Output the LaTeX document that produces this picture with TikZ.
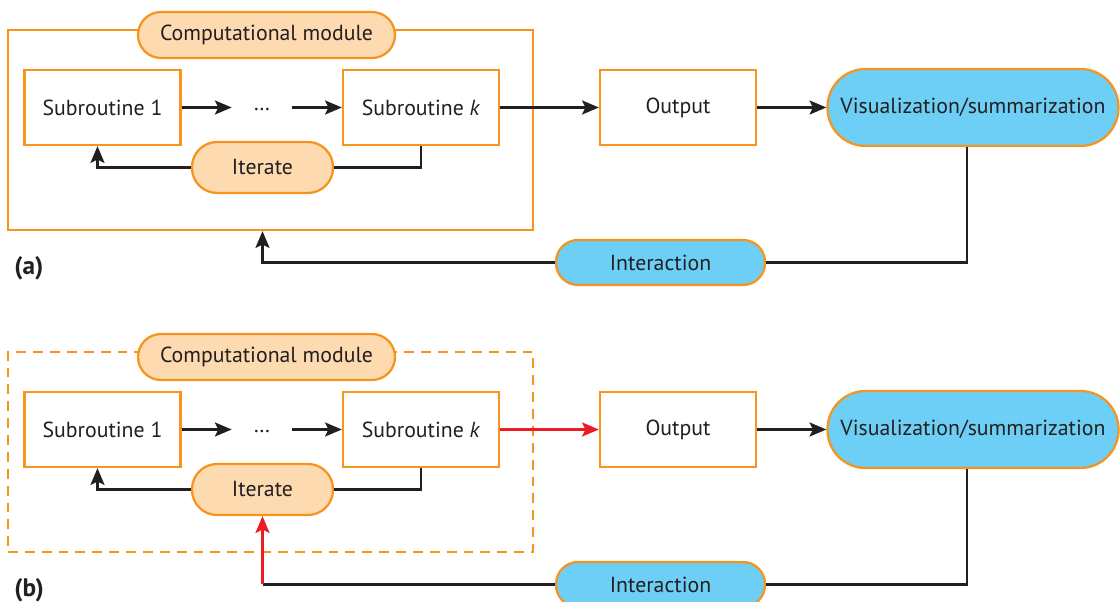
\documentclass[tikz,border=0pt]{standalone}
\usepackage{fontspec}
\setmainfont{PT Sans}
\usetikzlibrary{arrows.meta,calc}
\definecolor{orng}{HTML}{F7941D}
\definecolor{lorng}{HTML}{FDDAB0}
\definecolor{sky}{HTML}{6DCFF6}
\definecolor{ink}{HTML}{231F20}
\definecolor{redl}{HTML}{ED1C24}
\def\u{0.025cm}
\tikzset{
  base/.style={font=\fontsize{15.5}{18}\selectfont, text=ink},
  box/.style={base, draw=orng, line width=1.6pt, fill=white, minimum width={156*\u}, minimum height={75*\u}, inner sep=0pt},
  pill/.style={base, draw=orng, line width=1.6pt, fill=lorng, inner sep=0pt},
  bpill/.style={base, draw=orng, line width=1.6pt, fill=sky, inner sep=0pt},
  frame/.style={draw=orng, line width=1.6pt, minimum width={525*\u}, minimum height={200*\u}, inner sep=0pt},
  conn/.style={draw=ink, line width=1.7pt},
  arr/.style={conn, -{Stealth[length=12pt,width=10pt,inset=2.5pt]}},
  lab/.style={font=\fontsize{18}{20}\selectfont\bfseries, text=ink, anchor=west, inner sep=0pt}
}
\begin{document}
\begin{tikzpicture}[x=0.025cm,y=-0.025cm]
\useasboundingbox (0,0) rectangle (1120,602);
% ---------- (a) ----------
\node[frame] (modA) at (270.5,130) {};
\node[pill, minimum width={257*\u}, minimum height={46*\u}, rounded corners={23*\u}] (cmA) at (266.5,35) {Computational module};
\node[box] (s1A) at (102.5,107.5) {Subroutine 1};
\node[base, minimum width={60*\u}, inner sep=0pt] (dA) at (262,107.5) {\raisebox{-5pt}{\dots}};
\node[box] (skA) at (421,107.5) {Subroutine \textit{k}};
\node[pill, minimum width={141*\u}, minimum height={51*\u}, rounded corners={25*\u}] (itA) at (262.5,167.5) {Iterate};
\node[box] (outA) at (678,107.5) {Output};
\node[bpill, minimum width={291*\u}, minimum height={77*\u}, rounded corners={38*\u}] (visA) at (973,107.5) {Visualization/summarization};
\node[bpill, minimum width={209*\u}, minimum height={45*\u}, rounded corners={22*\u}] (inA) at (660.5,262.5) {Interaction};
\node[lab] (la) at (14,268) {(a)};
\draw[arr] (s1A.east) -- (dA.west);
\draw[arr] (dA.east) -- (skA.west);
\draw[arr] (itA.west) -| ([xshift={-5*\u}]s1A.south);
\draw[conn] (itA.east) -| (skA.south);
\draw[arr] (skA.east) -- (outA.west);
\draw[arr] (outA.east) -- (visA.west);
\draw[conn] ([xshift={-6*\u}]visA.south) |- (inA.east);
\draw[arr] (inA.west) -| (itA.center |- modA.south);
% ---------- (b) ----------
\node[frame, dash pattern=on 7pt off 5pt] (modB) at (270.5,452) {};
\node[pill, minimum width={257*\u}, minimum height={46*\u}, rounded corners={23*\u}] (cmB) at (266.5,357) {Computational module};
\node[box] (s1B) at (102.5,429.5) {Subroutine 1};
\node[base, minimum width={60*\u}, inner sep=0pt] (dB) at (262,429.5) {\raisebox{-5pt}{\dots}};
\node[box] (skB) at (421,429.5) {Subroutine \textit{k}};
\node[pill, minimum width={141*\u}, minimum height={51*\u}, rounded corners={25*\u}] (itB) at (262.5,489.5) {Iterate};
\node[box] (outB) at (678,429.5) {Output};
\node[bpill, minimum width={291*\u}, minimum height={77*\u}, rounded corners={38*\u}] (visB) at (973,429.5) {Visualization/summarization};
\node[bpill, minimum width={209*\u}, minimum height={45*\u}, rounded corners={22*\u}] (inB) at (660.5,584.5) {Interaction};
\node[lab] (lb) at (14,590) {(b)};
\coordinate (cB) at (itB.center |- inB.west);
\draw[arr] (s1B.east) -- (dB.west);
\draw[arr] (dB.east) -- (skB.west);
\draw[arr] (itB.west) -| ([xshift={-5*\u}]s1B.south);
\draw[conn] (itB.east) -| (skB.south);
\draw[arr, draw=redl, fill=redl] (skB.east) -- (outB.west);
\draw[arr] (outB.east) -- (visB.west);
\draw[conn] ([xshift={-6*\u}]visB.south) |- (inB.east);
\draw[conn] (inB.west) -- (cB);
\draw[arr, draw=redl, fill=redl] (cB) -- (itB.south);
\end{tikzpicture}
\end{document}
